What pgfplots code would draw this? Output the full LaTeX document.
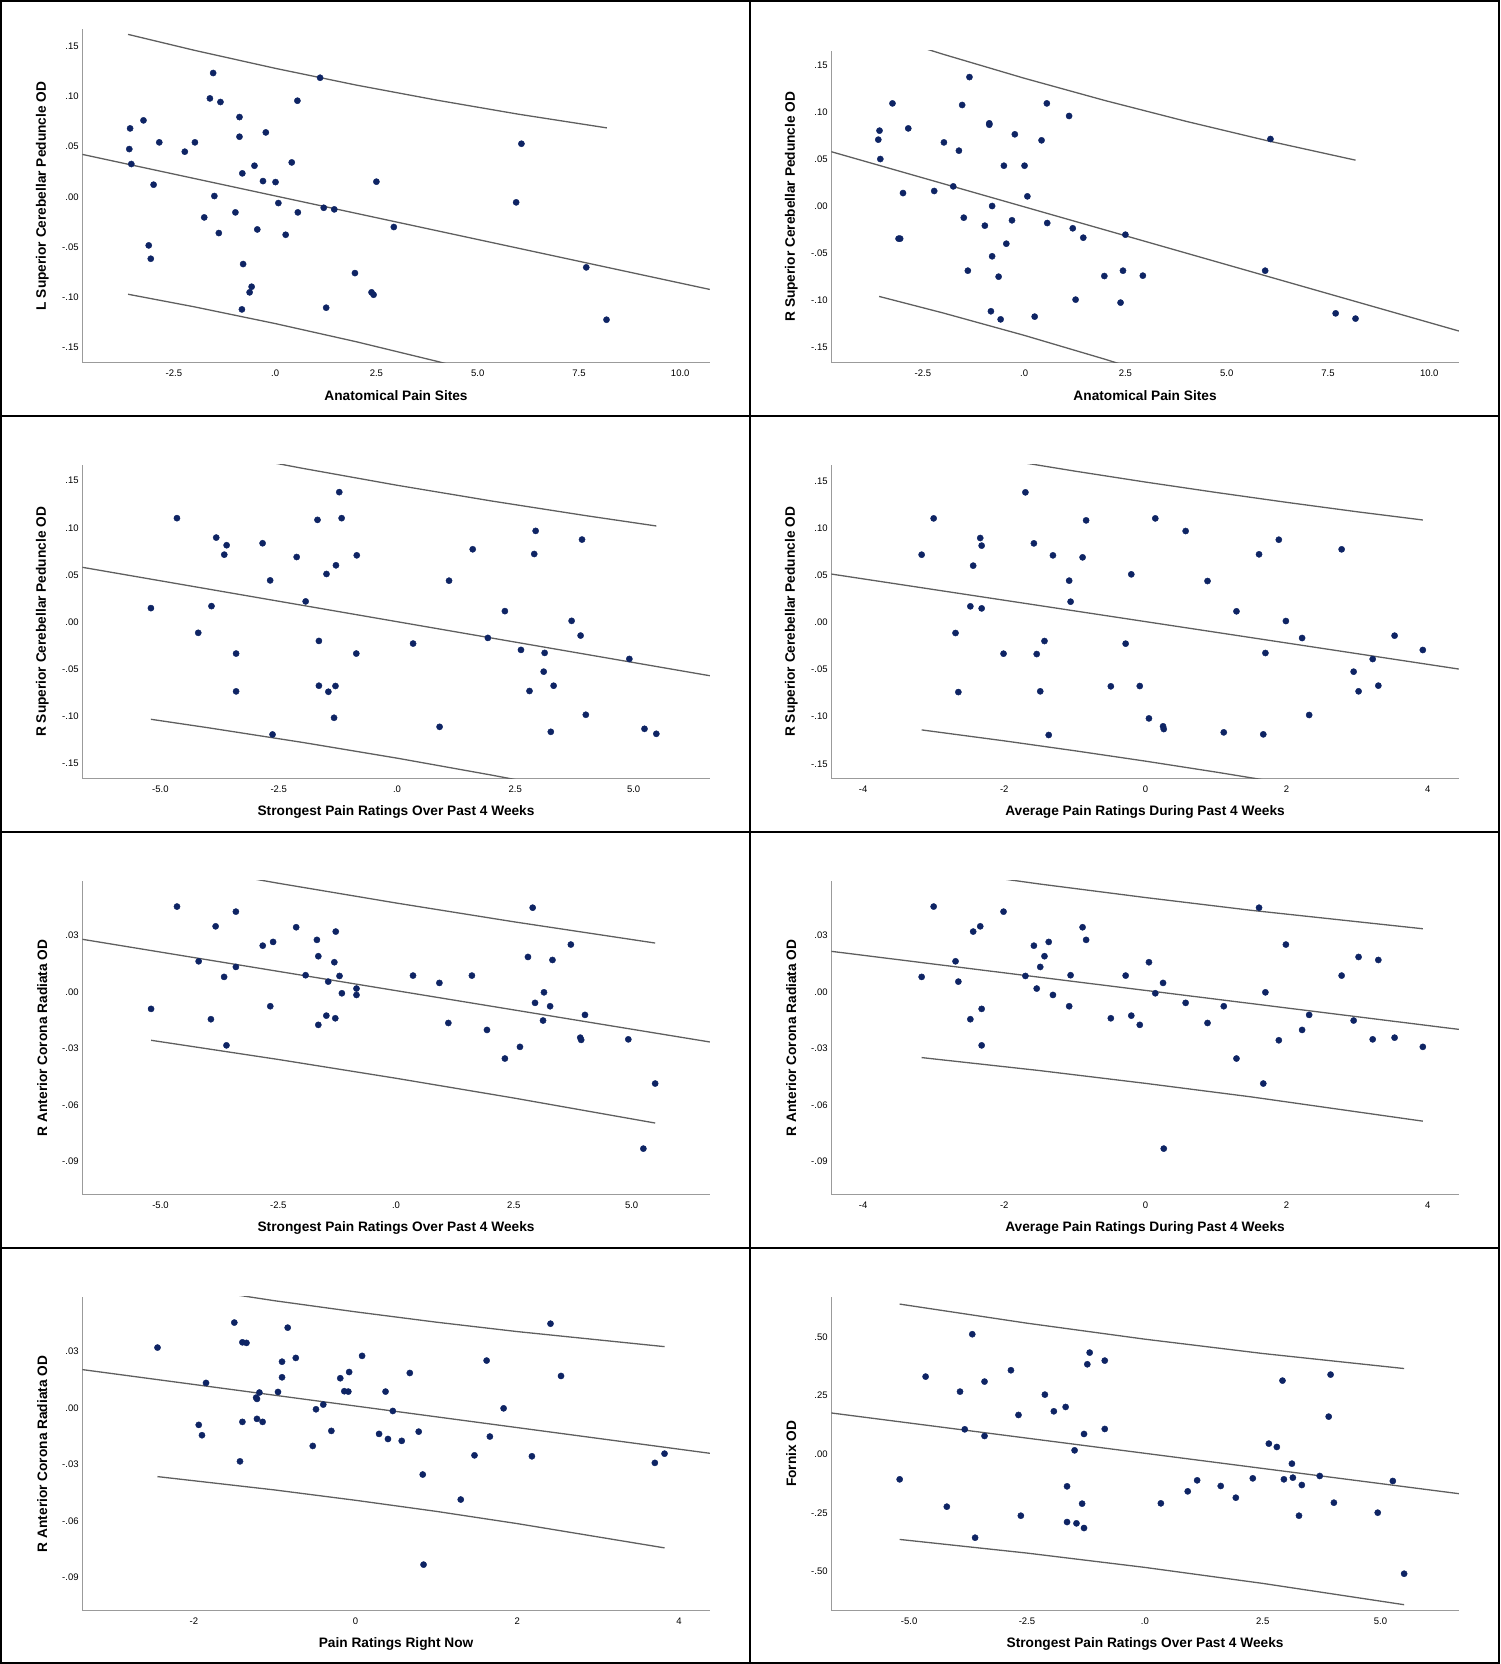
\documentclass[border=0pt]{standalone}
\usepackage{fontspec}
\setmainfont{Liberation Sans}
\usepackage{pgfplots}
\pgfplotsset{compat=1.18}
\definecolor{dotc}{RGB}{14,36,100}
\definecolor{fitc}{RGB}{95,95,95}
\definecolor{axc}{RGB}{155,155,155}
\pgfplotsset{
  spss/.style={
    scale only axis, width=627.5pt, anchor=south west,
    axis x line*=bottom, axis y line*=left,
    axis line style={draw=axc, line width=1.2pt, -},
    major tick length=0pt, tick style={draw=none},
    /pgf/number format/assume math mode=true,
    xticklabel style={font=\fontsize{9.5}{10}\selectfont, anchor=center, yshift=-10.5pt},
    yticklabel style={font=\fontsize{9.5}{10}\selectfont, anchor=east, inner sep=0pt, xshift=-3.5pt},
    every axis x label/.style={at={([yshift=-33pt]axis description cs:0.5,0)}, anchor=center, font=\fontsize{13.7}{15}\selectfont\bfseries},
    every axis y label/.style={at={([xshift=-40pt]axis description cs:0,0.5)}, anchor=center, rotate=90, font=\fontsize{13.7}{15}\selectfont\bfseries},
    clip=true,
  },
  pts/.style={only marks, mark=*, mark size=3.1pt, mark options={draw=dotc, fill=dotc}},
  fl/.style={fitc, line width=1.3pt, no marks},
  ytA/.style={ytick={-0.15,-0.10,-0.05,0,0.05,0.10,0.15}, yticklabels={-.15,-.10,-.05,.00,.05,.10,.15}},
  ytB/.style={ytick={-0.09,-0.06,-0.03,0,0.03}, yticklabels={-.09,-.06,-.03,.00,.03}},
  xtS/.style={xtick={-5,-2.5,0,2.5,5}, xticklabels={-5.0,-2.5,.0,2.5,5.0}},
  xtA/.style={xtick={-4,-2,0,2,4}, xticklabels={-4,-2,0,2,4}},
}
\begin{document}
\begin{tikzpicture}[x=1pt,y=1pt]
\useasboundingbox (0,0) rectangle (1500,1664);

% ---------- Panel 1 ----------
\begin{axis}[spss, at={(82.3pt,1301.3pt)}, height=333.3pt,
  xmin=-4.76, xmax=10.73, ymin=-0.1654, ymax=0.1668, ytA,
  xtick={-2.5,0,2.5,5,7.5,10}, xticklabels={-2.5,.0,2.5,5.0,7.5,10.0},
  xlabel={Anatomical Pain Sites}, ylabel={L Superior Cerebellar Peduncle OD}]
\addplot[fl] coordinates {(-4.76,0.0422) (10.73,-0.0924)};
\addplot[fl] coordinates {(-3.63,0.1618) (-2,0.1460) (0,0.1280) (2,0.1113) (4,0.0962) (6,0.0823) (8.19,0.0686)};
\addplot[fl] coordinates {(-3.63,-0.0972) (-2,-0.1097) (0,-0.1264) (2,-0.1445) (4,-0.1641) (6,-0.1850) (8.19,-0.2094)};
\addplot[pts] coordinates {
(-3.58,0.0681) (-3.25,0.0761) (-3.60,0.0475) (-3.55,0.0326) (-2.86,0.0542) (-3.00,0.0120) (-3.12,-0.0485) (-3.07,-0.0618) (-2.23,0.0449) (-1.98,0.0542) (-1.53,0.1233) (-1.61,0.0980) (-1.35,0.0944) (-1.50,0.0007) (-1.75,-0.0206) (-1.39,-0.0362) (-0.98,-0.0156) (-0.88,0.0794) (-0.88,0.0598) (-0.81,0.0233) (-0.79,-0.0671) (-0.58,-0.0897) (-0.63,-0.0953) (-0.82,-0.1123) (-0.51,0.0309) (-0.44,-0.0326) (-0.30,0.0156) (-0.23,0.0641) (0.01,0.0146) (0.08,-0.0063) (0.26,-0.0379) (0.41,0.0342) (0.55,0.0957) (0.56,-0.0156) (1.11,0.1186) (1.20,-0.0110) (1.46,-0.0126) (1.26,-0.1106) (1.97,-0.0761) (2.38,-0.0953) (2.43,-0.0977) (2.50,0.0150) (2.93,-0.0302) (5.95,-0.0056) (6.08,0.0528) (7.68,-0.0704) (8.18,-0.1226)};
\end{axis}

% ---------- Panel 2 ----------
\begin{axis}[spss, at={(831.3pt,1301.3pt)}, height=312pt,
  xmin=-4.76, xmax=10.73, ymin=-0.166, ymax=0.166, ytA,
  xtick={-2.5,0,2.5,5,7.5,10}, xticklabels={-2.5,.0,2.5,5.0,7.5,10.0},
  xlabel={Anatomical Pain Sites}, ylabel={R Superior Cerebellar Peduncle OD}]
\addplot[fl] coordinates {(-4.76,0.0585) (10.73,-0.1323)};
\addplot[fl] coordinates {(-3.58,0.1835) (-2,0.1622) (0,0.1367) (2,0.1129) (4,0.0908) (6,0.0702) (8.18,0.0495)};
\addplot[fl] coordinates {(-3.58,-0.0955) (-2,-0.1131) (0,-0.1369) (2,-0.1624) (4,-0.1895) (6,-0.2183) (8.18,-0.2513)};
\addplot[pts] coordinates {
(-3.60,0.0713) (-3.57,0.0809) (-3.55,0.0507) (-3.25,0.1099) (-2.86,0.0833) (-2.99,0.0145) (-3.10,-0.0340) (-3.06,-0.0340) (-2.22,0.0167) (-1.98,0.0684) (-1.75,0.0216) (-1.61,0.0596) (-1.53,0.1082) (-1.35,0.1379) (-1.49,-0.0117) (-1.39,-0.0681) (-0.97,-0.0202) (-0.86,0.0887) (-0.86,0.0872) (-0.79,0.0007) (-0.79,-0.0528) (-0.82,-0.1113) (-0.63,-0.0745) (-0.58,-0.1199) (-0.50,0.0436) (-0.44,-0.0394) (-0.30,-0.0145) (-0.23,0.0770) (0.01,0.0436) (0.08,0.0110) (0.26,-0.1170) (0.43,0.0706) (0.56,0.1099) (0.57,-0.0174) (1.11,0.0965) (1.20,-0.0230) (1.27,-0.0989) (1.46,-0.0330) (1.98,-0.0738) (2.38,-0.1021) (2.44,-0.0681) (2.50,-0.0298) (2.93,-0.0734) (5.95,-0.0681) (6.08,0.0720) (7.69,-0.1135) (8.18,-0.1191)};
\end{axis}

% ---------- Panel 3 ----------
\begin{axis}[spss, at={(82.3pt,885.3pt)}, height=313.7pt,
  xmin=-6.65, xmax=6.61, ymin=-0.166, ymax=0.1667, ytA, xtS,
  xlabel={Strongest Pain Ratings Over Past 4 Weeks}, ylabel={R Superior Cerebellar Peduncle OD}]
\addplot[fl] coordinates {(-6.65,0.0582) (6.61,-0.0568)};
\addplot[fl] coordinates {(-5.2,0.1942) (-4,0.1822) (-2,0.1632) (0,0.1452) (2,0.1285) (4,0.1129) (5.48,0.1020)};
\addplot[fl] coordinates {(-5.2,-0.1030) (-4,-0.1119) (-2,-0.1275) (0,-0.1442) (2,-0.1622) (4,-0.1812) (5.48,-0.1960)};
\addplot[pts] coordinates {
(-5.20,0.0149) (-4.65,0.1103) (-4.20,-0.0113) (-3.92,0.0170) (-3.82,0.0897) (-3.60,0.0816) (-3.65,0.0716) (-3.40,-0.0333) (-3.40,-0.0734) (-2.84,0.0837) (-2.68,0.0443) (-2.63,-0.1191) (-2.12,0.0691) (-1.93,0.0220) (-1.68,0.1085) (-1.65,-0.0199) (-1.65,-0.0674) (-1.49,0.0511) (-1.45,-0.0738) (-1.29,0.0603) (-1.30,-0.0677) (-1.33,-0.1014) (-1.22,0.1379) (-1.17,0.1103) (-0.85,0.0709) (-0.86,-0.0333) (0.34,-0.0227) (0.90,-0.1110) (1.10,0.0440) (1.60,0.0773) (1.92,-0.0167) (2.28,0.0117) (2.62,-0.0294) (2.80,-0.0730) (2.90,0.0723) (2.93,0.0968) (3.12,-0.0326) (3.10,-0.0525) (3.31,-0.0674) (3.25,-0.1163) (3.69,0.0014) (3.88,-0.0142) (3.91,0.0876) (3.99,-0.0982) (4.91,-0.0390) (5.23,-0.1131) (5.48,-0.1184)};
\end{axis}

% ---------- Panel 4 ----------
\begin{axis}[spss, at={(831.3pt,885.3pt)}, height=313.7pt,
  xmin=-4.45, xmax=4.44, ymin=-0.1657, ymax=0.1668, ytA, xtA,
  xlabel={Average Pain Ratings During Past 4 Weeks}, ylabel={R Superior Cerebellar Peduncle OD}]
\addplot[fl] coordinates {(-4.45,0.0512) (4.44,-0.0495)};
\addplot[fl] coordinates {(-3.17,0.1874) (-2,0.1725) (-1,0.1603) (0,0.1487) (1,0.1377) (2,0.1272) (3,0.1172) (3.93,0.1085)};
\addplot[fl] coordinates {(-3.17,-0.1140) (-2,-0.1256) (-1,-0.1361) (0,-0.1471) (1,-0.1587) (2,-0.1709) (3,-0.1836) (3.93,-0.1959)};
\addplot[pts] coordinates {
(-3.17,0.0717) (-3.00,0.1102) (-2.69,-0.0113) (-2.65,-0.0739) (-2.48,0.0170) (-2.44,0.0601) (-2.34,0.0894) (-2.32,0.0813) (-2.32,0.0148) (-2.01,-0.0332) (-1.70,0.1378) (-1.58,0.0837) (-1.54,-0.0336) (-1.49,-0.0731) (-1.43,-0.0198) (-1.37,-0.1194) (-1.31,0.0710) (-1.08,0.0442) (-1.06,0.0219) (-0.89,0.0689) (-0.84,0.1081) (-0.49,-0.0678) (-0.28,-0.0226) (-0.20,0.0509) (-0.08,-0.0675) (0.05,-0.1018) (0.14,0.1102) (0.25,-0.1102) (0.26,-0.1131) (0.57,0.0968) (0.88,0.0438) (1.11,-0.1166) (1.29,0.0117) (1.61,0.0721) (1.67,-0.1187) (1.70,-0.0325) (1.89,0.0876) (1.99,0.0014) (2.22,-0.0166) (2.32,-0.0982) (2.78,0.0774) (2.95,-0.0523) (3.02,-0.0731) (3.22,-0.0389) (3.30,-0.0671) (3.53,-0.0141) (3.93,-0.0293)};
\end{axis}

% ---------- Panel 5 ----------
\begin{axis}[spss, at={(82.3pt,469.3pt)}, height=313.7pt,
  xmin=-6.66, xmax=6.66, ymin=-0.1078, ymax=0.059, ytB, xtS,
  xlabel={Strongest Pain Ratings Over Past 4 Weeks}, ylabel={R Anterior Corona Radiata OD}]
\addplot[fl] coordinates {(-6.66,0.0280) (6.66,-0.0266)};
\addplot[fl] coordinates {(-5.2,0.0697) (-2.5,0.0578) (0,0.0473) (2.5,0.0373) (5.5,0.0260)};
\addplot[fl] coordinates {(-5.2,-0.0257) (-2.5,-0.0359) (0,-0.0459) (2.5,-0.0564) (5.5,-0.0697)};
\addplot[pts] coordinates {
(-5.20,-0.0090) (-4.65,0.0454) (-4.19,0.0163) (-3.93,-0.0145) (-3.83,0.0349) (-3.65,0.0080) (-3.60,-0.0284) (-3.40,0.0427) (-3.40,0.0133) (-2.83,0.0246) (-2.67,-0.0076) (-2.61,0.0266) (-2.12,0.0344) (-1.92,0.0089) (-1.68,0.0277) (-1.65,0.0190) (-1.65,-0.0175) (-1.48,-0.0126) (-1.44,0.0055) (-1.31,0.0158) (-1.29,-0.0140) (-1.28,0.0321) (-1.20,0.0085) (-1.15,-0.0007) (-0.84,0.0018) (-0.84,-0.0016) (0.36,0.0087) (0.92,0.0048) (1.11,-0.0165) (1.61,0.0087) (1.93,-0.0202) (2.31,-0.0354) (2.63,-0.0292) (2.80,0.0186) (2.90,0.0448) (2.95,-0.0058) (3.14,-0.0002) (3.12,-0.0152) (3.27,-0.0076) (3.32,0.0170) (3.71,0.0252) (3.91,-0.0243) (3.93,-0.0255) (4.01,-0.0122) (4.93,-0.0252) (5.25,-0.0833) (5.50,-0.0487)};
\end{axis}

% ---------- Panel 6 ----------
\begin{axis}[spss, at={(831.3pt,469.3pt)}, height=313.7pt,
  xmin=-4.45, xmax=4.44, ymin=-0.1078, ymax=0.059, ytB, xtA,
  xlabel={Average Pain Ratings During Past 4 Weeks}, ylabel={R Anterior Corona Radiata OD}]
\addplot[fl] coordinates {(-4.45,0.0216) (4.44,-0.0199)};
\addplot[fl] coordinates {(-3.17,0.0661) (-1.5,0.0574) (0,0.0502) (1.5,0.0434) (3.93,0.0336)};
\addplot[fl] coordinates {(-3.17,-0.0349) (-1.5,-0.0418) (0,-0.0486) (1.5,-0.0558) (3.93,-0.0687)};
\addplot[pts] coordinates {
(-3.17,0.0080) (-3.00,0.0454) (-2.69,0.0163) (-2.65,0.0055) (-2.48,-0.0145) (-2.44,0.0321) (-2.34,0.0349) (-2.32,-0.0090) (-2.32,-0.0284) (-2.01,0.0427) (-1.70,0.0085) (-1.58,0.0246) (-1.54,0.0018) (-1.49,0.0133) (-1.43,0.0190) (-1.37,0.0266) (-1.31,-0.0016) (-1.08,-0.0076) (-1.06,0.0089) (-0.89,0.0344) (-0.84,0.0277) (-0.49,-0.0140) (-0.28,0.0087) (-0.20,-0.0126) (-0.08,-0.0175) (0.05,0.0158) (0.14,-0.0007) (0.25,0.0048) (0.26,-0.0833) (0.57,-0.0058) (0.88,-0.0165) (1.11,-0.0076) (1.29,-0.0354) (1.61,0.0448) (1.67,-0.0487) (1.70,-0.0002) (1.89,-0.0257) (1.99,0.0252) (2.22,-0.0202) (2.32,-0.0122) (2.78,0.0087) (2.95,-0.0152) (3.02,0.0186) (3.22,-0.0252) (3.30,0.0170) (3.53,-0.0243) (3.93,-0.0292)};
\end{axis}

% ---------- Panel 7 ----------
\begin{axis}[spss, at={(82.3pt,53.3pt)}, height=313.7pt,
  xmin=-3.38, xmax=4.38, ymin=-0.1078, ymax=0.059, ytB,
  xtick={-2,0,2,4}, xticklabels={-2,0,2,4},
  xlabel={Pain Ratings Right Now}, ylabel={R Anterior Corona Radiata OD}]
\addplot[fl] coordinates {(-3.38,0.0204) (4.38,-0.0241)};
\addplot[fl] coordinates {(-2.45,0.0665) (-1,0.0570) (0,0.0511) (1,0.0456) (2,0.0406) (3.82,0.0326)};
\addplot[fl] coordinates {(-2.45,-0.0365) (-1,-0.0436) (0,-0.0491) (1,-0.0550) (2,-0.0615) (3.82,-0.0744)};
\addplot[pts] coordinates {
(-2.45,0.0321) (-1.94,-0.0090) (-1.90,-0.0145) (-1.85,0.0133) (-1.50,0.0454) (-1.43,-0.0284) (-1.40,0.0349) (-1.35,0.0346) (-1.40,-0.0074) (-1.23,0.0055) (-1.22,0.0048) (-1.22,-0.0058) (-1.19,0.0082) (-1.15,-0.0074) (-0.96,0.0085) (-0.91,0.0246) (-0.91,0.0163) (-0.84,0.0427) (-0.74,0.0266) (-0.53,-0.0202) (-0.49,-0.0007) (-0.40,0.0018) (-0.30,-0.0122) (-0.19,0.0158) (-0.14,0.0089) (-0.09,0.0087) (-0.08,0.0191) (0.08,0.0277) (0.29,-0.0138) (0.37,0.0087) (0.40,-0.0165) (0.46,-0.0016) (0.57,-0.0175) (0.67,0.0186) (0.78,-0.0126) (0.83,-0.0354) (0.84,-0.0833) (1.30,-0.0487) (1.47,-0.0252) (1.62,0.0252) (1.66,-0.0152) (1.83,-0.0002) (2.18,-0.0257) (2.41,0.0448) (2.54,0.0170) (3.70,-0.0292) (3.82,-0.0243)};
\end{axis}

% ---------- Panel 8 ----------
\begin{axis}[spss, at={(831.3pt,53.3pt)}, height=313.7pt,
  xmin=-6.65, xmax=6.66, ymin=-0.666, ymax=0.670, xtS,
  ytick={-0.5,-0.25,0,0.25,0.5}, yticklabels={-.50,-.25,.00,.25,.50},
  xlabel={Strongest Pain Ratings Over Past 4 Weeks}, ylabel={Fornix OD}]
\addplot[fl] coordinates {(-6.65,0.1761) (6.66,-0.1676)};
\addplot[fl] coordinates {(-5.2,0.6398) (-2.5,0.5585) (0,0.4904) (2.5,0.4294) (5.5,0.3653)};
\addplot[fl] coordinates {(-5.2,-0.3625) (-2.5,-0.4206) (0,-0.4816) (2.5,-0.5497) (5.5,-0.6405)};
\addplot[pts] coordinates {
(-5.20,-0.1065) (-4.65,0.3310) (-4.20,-0.2230) (-3.92,0.2670) (-3.82,0.1065) (-3.66,0.5114) (-3.60,-0.3551) (-3.40,0.3097) (-3.40,0.0781) (-2.84,0.3580) (-2.68,0.1676) (-2.63,-0.2614) (-2.12,0.2543) (-1.93,0.1832) (-1.68,0.2017) (-1.65,-0.1364) (-1.65,-0.2884) (-1.49,0.0170) (-1.45,-0.2940) (-1.29,0.0866) (-1.33,-0.2102) (-1.29,-0.3139) (-1.22,0.3835) (-1.17,0.4332) (-0.85,0.3991) (-0.85,0.1080) (0.34,-0.2088) (0.91,-0.1577) (1.11,-0.1108) (1.61,-0.1349) (1.93,-0.1847) (2.29,-0.1023) (2.63,0.0455) (2.80,0.0313) (2.92,0.3139) (2.95,-0.1065) (3.12,-0.0398) (3.14,-0.0994) (3.27,-0.2614) (3.33,-0.1307) (3.71,-0.0923) (3.90,0.1605) (3.94,0.3395) (4.01,-0.2060) (4.94,-0.2486) (5.26,-0.1136) (5.50,-0.5085)};
\end{axis}

% ---------- panel frames ----------
\draw[line width=2pt] (1,1) rectangle (1499,1663);
\draw[line width=2pt] (750,0) -- (750,1664);
\draw[line width=2pt] (0,1248) -- (1500,1248);
\draw[line width=2pt] (0,832) -- (1500,832);
\draw[line width=2pt] (0,416) -- (1500,416);
\end{tikzpicture}
\end{document}
